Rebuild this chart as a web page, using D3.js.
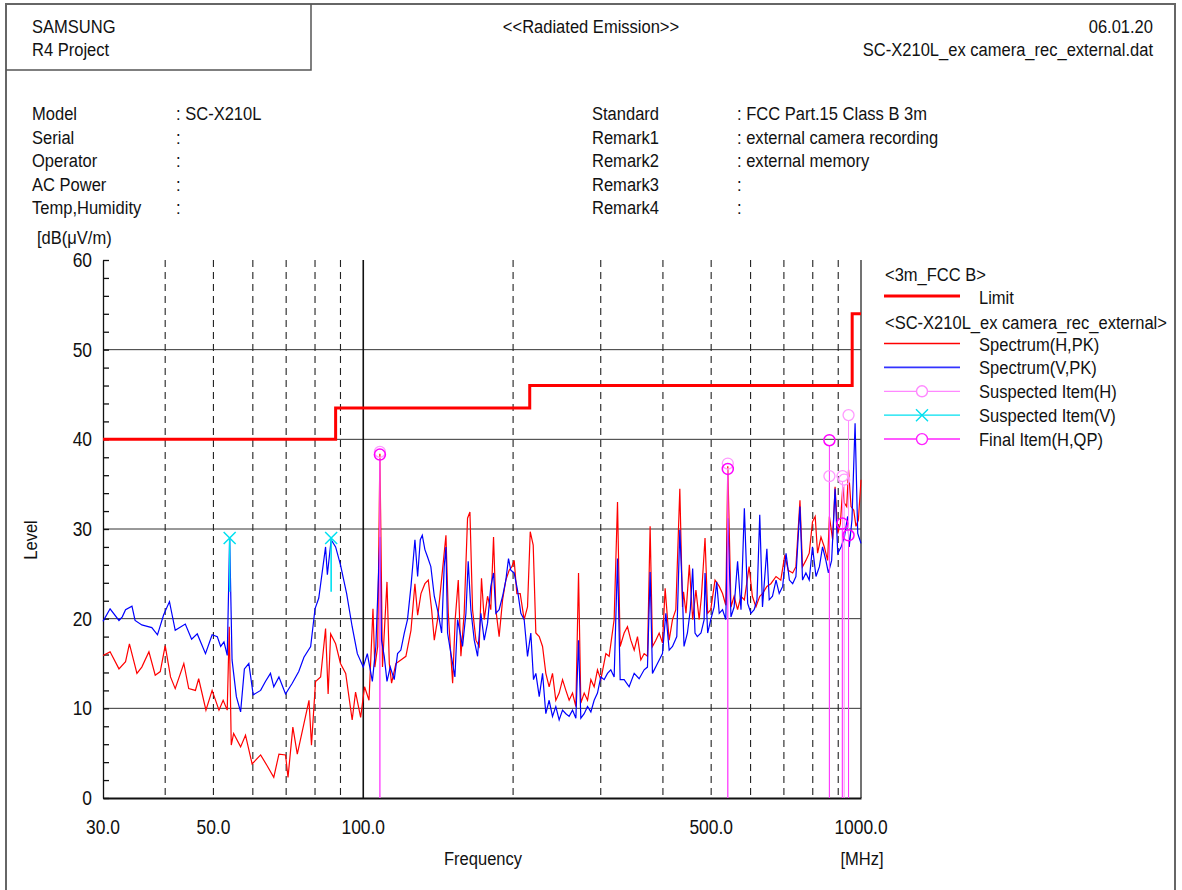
<!DOCTYPE html>
<html>
<head>
<meta charset="utf-8">
<script src="https://cdn.jsdelivr.net/npm/d3@7"></script>
<style>
  body { margin: 0; background: #fff; }
  text { font-family: "Liberation Sans", Arial, sans-serif; fill: #111; }
</style>
</head>
<body>
<svg id="chart" width="1182" height="890"></svg>
<script>
// ---- data ----
var xTickValues = [30, 50, 100, 500, 1000];
var xTickLabels = ["30.0", "50.0", "100.0", "500.0", "1000.0"];
var yTickValues = [0, 10, 20, 30, 40, 50, 60];
var gridFreqs = [40, 50, 60, 70, 80, 90, 200, 300, 400, 500, 600, 700, 800, 900];

// limit (step after)
var limitFreq = [30, 88, 216, 960, 1000];
var limitLevel = [40, 43.5, 46, 54, 54];

// Spectrum(H,PK) [MHz, dB(uV/m)]
var specH = [
  [30.0,15.9],[31.0,16.3],[32.3,14.4],[33.3,15.2],[33.9,17.2],[35.1,13.9],[35.9,14.6],[37.1,16.3],[38.2,13.7],[39.1,14.1],
  [40.0,17.0],[41.0,13.5],[41.9,12.2],[43.6,15.0],[44.6,12.2],[46.0,12.0],[46.7,13.3],[48.3,9.8],[49.7,12.0],[51.3,9.8],
  [52.3,10.9],[53.3,9.8],[53.8,19.1],[54.3,5.9],[54.9,7.2],[56.7,5.7],[58.0,7.0],[59.8,3.8],[62.2,4.8],[64.1,3.6],
  [66.1,2.3],[67.7,4.9],[69.8,4.8],[70.6,2.3],[72.2,7.9],[73.7,4.9],[76.0,8.3],[77.8,10.9],[78.7,5.9],[80.2,13.0],
  [82.1,13.5],[84.0,18.9],[85.0,11.6],[86.0,18.3],[88.0,17.2],[90.0,15.0],[92.2,13.9],[95.0,8.7],[96.5,11.8],[98.8,9.0],
  [100.6,12.4],[102.7,10.9],[104.6,21.1],[105.5,14.6],[106.9,16.9],[108.0,38.4],[109.3,14.6],[111.6,24.1],[112.8,15.0],[114.0,12.8],
  [116.3,15.0],[119.0,15.4],[121.8,15.8],[124.7,18.7],[127.0,23.9],[128.6,20.4],[130.6,22.8],[133.0,23.9],[135.1,24.3],[137.2,21.0],
  [138.9,17.6],[141.0,19.9],[143.2,23.6],[146.6,29.3],[148.2,20.6],[150.0,15.8],[151.2,12.8],[153.0,19.9],[155.2,24.3],[157.1,15.8],
  [159.5,20.6],[162.0,31.2],[163.8,31.9],[165.8,21.0],[168.4,17.6],[171.0,16.9],[172.8,24.5],[175.0,19.9],[177.7,22.5],[180.4,21.0],
  [182.7,29.1],[184.7,21.0],[187.5,18.0],[190.5,22.1],[193.4,24.3],[196.4,25.4],[198.9,25.8],[201.0,26.5],[203.5,22.8],[206.7,22.8],
  [210.5,19.9],[213.8,21.3],[216.5,29.7],[219.5,28.2],[222.2,18.4],[225.7,18.0],[229.2,16.9],[232.7,13.9],[236.3,12.4],[240.0,13.9],
  [243.7,10.9],[247.5,11.7],[251.4,13.2],[255.3,12.0],[259.2,10.9],[263.3,11.7],[267.4,10.2],[270.7,25.1],[273.6,10.6],[277.9,11.7],
  [282.2,10.9],[286.6,13.2],[291.0,12.4],[295.5,14.3],[300.1,13.2],[307.2,16.1],[311.9,15.8],[319.2,19.9],[324.2,33.0],[328.2,16.9],
  [334.3,18.4],[339.5,19.1],[344.8,17.6],[350.2,16.5],[355.6,18.0],[361.1,15.4],[366.7,16.1],[372.4,15.8],[377.0,30.3],[381.1,16.9],
  [387.1,17.6],[393.1,18.4],[399.2,17.3],[404.1,23.4],[411.7,17.6],[418.1,19.9],[424.6,21.0],[432.5,34.5],[437.9,21.3],[440,23.0],
  [445,20.6],[452,26.0],[459,19.9],[466,23.2],[473,19.9],[478,22.5],[486,29.0],[492,20.6],[499,21.0],[509,24.3],
  [519,23.6],[527,22.8],[535,21.5],[540,37.0],[548,21.3],[556,22.5],[565,21.0],[574,22.5],[583,22.1],[596,25.8],
  [605,22.5],[615,21.3],[626,22.5],[634,22.8],[647,23.6],[659,23.9],[675,24.7],[690,24.3],[703,27.1],[714,25.4],
  [729,25.1],[740,25.8],[754,33.2],[763,25.8],[775,26.5],[787,27.3],[799,30.8],[809,31.4],[818,27.3],[831,29.1],
  [844,28.0],[857,26.5],[864,31.4],[877,28.8],[887,34.7],[898,29.5],[909,30.6],[919,34.7],[926,32.9],[936,32.5],
  [944,36.6],[955,32.5],[967,32.1],[977,30.3],[988,31.0],[1000,35.5]
];

// Spectrum(V,PK) [MHz, dB(uV/m)]
var specV = [
  [30.0,19.7],[31.0,21.1],[32.3,19.8],[32.8,20.2],[33.3,21.0],[34.3,21.4],[34.8,19.8],[35.9,19.3],[36.5,19.2],[37.6,19.0],
  [38.6,18.2],[39.7,20.4],[40.8,21.9],[41.9,18.7],[43.9,19.4],[45.2,17.7],[46.4,18.3],[48.2,16.1],[49.7,18.2],[50.9,18.0],
  [51.7,16.9],[52.5,17.4],[53.3,15.9],[53.9,29.0],[54.5,15.4],[55.6,11.3],[56.7,9.6],[57.7,14.4],[58.9,15.0],[60.1,11.5],
  [62.2,12.0],[63.6,13.0],[65.1,13.9],[66.1,12.4],[67.7,13.5],[69.8,11.6],[72.0,12.8],[74.2,14.1],[76.0,15.7],[78.4,16.9],
  [80.0,21.1],[81.4,22.3],[84.0,28.0],[84.7,24.9],[86.2,28.8],[88.0,28.0],[90.0,26.0],[92.6,22.8],[95.0,19.1],[97.3,16.1],
  [100.0,14.6],[101.9,16.1],[104.3,13.0],[106.0,16.9],[108.0,29.1],[108.8,17.6],[110.2,15.8],[111.6,13.0],[113.3,14.6],[115.4,13.2],
  [117.2,16.1],[119.0,16.5],[120.9,18.4],[122.7,19.9],[124.7,23.6],[127.0,28.8],[128.6,24.7],[130.2,28.8],[131.4,29.3],[133.0,27.7],
  [134.6,26.9],[136.7,25.8],[138.9,22.5],[141.5,20.6],[143.7,18.4],[145.4,25.8],[146.6,28.0],[147.7,18.4],[150.0,16.1],[152.8,13.5],
  [154.7,19.9],[158.3,16.9],[160.8,20.6],[162.5,26.4],[164.5,21.0],[167.1,17.6],[169.7,15.8],[172.3,20.6],[175.0,17.6],[177.7,19.5],
  [180.4,23.6],[182.7,25.1],[184.7,20.6],[187.5,21.0],[190.5,22.5],[193.4,24.3],[195.8,26.7],[197.9,25.4],[201.0,25.1],[204.1,23.2],
  [207.3,20.6],[210.5,19.9],[213.8,15.8],[217.1,18.4],[219.8,13.2],[222.2,13.9],[225.7,11.3],[229.2,13.9],[232.7,9.4],[236.3,10.9],
  [240.0,9.1],[243.7,10.2],[247.5,8.7],[251.4,9.8],[255.3,9.4],[259.2,9.1],[263.3,9.8],[267.4,8.9],[270.7,17.6],[273.6,8.9],
  [277.9,9.4],[282.2,10.2],[286.6,9.6],[291.0,10.9],[295.5,11.7],[300.1,13.5],[304.8,13.2],[309.5,13.9],[314.3,14.3],[319.2,13.5],
  [324.2,26.7],[328.2,13.2],[334.3,13.2],[342.1,12.4],[350.2,13.9],[358.3,13.3],[366.7,14.3],[372.4,14.6],[377.0,25.2],[381.1,13.9],
  [390.0,15.0],[399.2,16.1],[405.4,20.6],[411.7,16.5],[418.1,16.9],[426.5,18.0],[432.5,29.9],[437.9,22.5],[441,16.9],[448,18.4],
  [454,21.0],[459,25.6],[464,18.4],[469,18.0],[477,18.4],[484,19.9],[486,25.1],[492,18.4],[499,19.9],[507,21.3],
  [513,24.1],[519,20.6],[527,21.0],[535,19.9],[540,31.2],[548,20.2],[556,21.3],[565,26.4],[574,21.0],[583,32.3],
  [592,21.7],[601,20.6],[610,21.0],[618,22.1],[626,31.6],[634,21.3],[647,27.8],[654,22.1],[664,22.5],[675,24.3],
  [685,22.8],[696,23.6],[707,27.3],[718,24.3],[729,23.9],[740,24.7],[754,32.5],[763,24.3],[775,25.1],[787,24.3],
  [799,28.0],[812,24.7],[825,25.8],[837,28.0],[850,26.5],[860,25.1],[873,26.5],[887,34.5],[898,27.3],[912,28.0],
  [926,29.1],[940,31.4],[947,28.0],[959,31.0],[973,41.8],[985,29.5],[1000,28.4]
];

// items
var suspH = [[108, 38.6], [540, 37.3], [864, 35.9], [918, 35.9], [925, 35.5], [944, 42.7]];
var finalH = [[108, 38.3], [540, 36.7], [864, 39.9], [917, 30.6], [944, 29.3]];
var suspV = [[53.9, 29.0], [86.2, 29.0]];

var headerLeft = ["Model", "Serial", "Operator", "AC Power", "Temp,Humidity"];
var headerLeftVal = [": SC-X210L", ":", ":", ":", ":"];
var headerRight = ["Standard", "Remark1", "Remark2", "Remark3", "Remark4"];
var headerRightVal = [": FCC Part.15 Class B 3m", ": external camera recording", ": external memory", ":", ":"];

// ---- drawing ----
(function() {
var svg = d3.select("#chart");
var plotLeft = 103, plotRight = 861, plotTop = 260, plotBottom = 798;

var x = d3.scaleLog().domain([30, 1000]).range([plotLeft, plotRight]);
var y = d3.scaleLinear().domain([0, 60]).range([plotBottom, plotTop]);

// condensed text helper
function txt(g, px, py, s, anchor, size) {
  return g.append("text")
    .attr("transform", "translate(" + px + "," + py + ") scale(0.87,1)")
    .attr("text-anchor", anchor || "start")
    .attr("font-size", size || 19)
    .text(s);
}

// outer frame + title box
svg.append("path").attr("d", "M6,890 V4 H1175 V890").attr("fill", "none").attr("stroke", "#666").attr("stroke-width", 2);
svg.append("path").attr("d", "M6,70 H311 V4").attr("fill", "none").attr("stroke", "#555").attr("stroke-width", 1.5);

txt(svg, 32, 33, "SAMSUNG");
txt(svg, 32, 56, "R4 Project");
txt(svg, 591, 33, "<<Radiated Emission>>", "middle");
txt(svg, 1153, 33, "06.01.20", "end");
txt(svg, 1153, 56, "SC-X210L_ex camera_rec_external.dat", "end");

headerLeft.forEach(function(s, i) {
  txt(svg, 32, 120 + i * 23.6, s);
  txt(svg, 176, 120 + i * 23.6, headerLeftVal[i]);
});
headerRight.forEach(function(s, i) {
  txt(svg, 592, 120 + i * 23.6, s);
  txt(svg, 737, 120 + i * 23.6, headerRightVal[i]);
});

txt(svg, 37, 244, "[dB(\u03bcV/m)");

// grid
var grid = svg.append("g");
grid.selectAll("line.h").data([10, 20, 30, 40, 50]).enter().append("line")
  .attr("x1", plotLeft).attr("x2", plotRight)
  .attr("y1", function(d) { return y(d); }).attr("y2", function(d) { return y(d); })
  .attr("stroke", "#333").attr("stroke-width", 1);
grid.selectAll("line.v").data(gridFreqs).enter().append("line")
  .attr("x1", function(d) { return x(d); }).attr("x2", function(d) { return x(d); })
  .attr("y1", plotTop).attr("y2", plotBottom)
  .attr("stroke", "#222").attr("stroke-width", 1.1).attr("stroke-dasharray", "7,5");
grid.append("line")
  .attr("x1", x(100)).attr("x2", x(100)).attr("y1", plotTop).attr("y2", plotBottom)
  .attr("stroke", "#111").attr("stroke-width", 1.6);
grid.append("line")
  .attr("x1", plotRight).attr("x2", plotRight).attr("y1", plotTop).attr("y2", plotBottom)
  .attr("stroke", "#444").attr("stroke-width", 1.5);

// axes
var yAxis = svg.append("g").attr("transform", "translate(" + plotLeft + ",0)")
  .call(d3.axisRight(y).tickValues(d3.range(0, 61, 2)).tickSize(6).tickSizeOuter(0).tickFormat(""));
yAxis.selectAll("path,line").attr("stroke", "#111").attr("stroke-width", 1.3);
var xAxis = svg.append("g").attr("transform", "translate(0," + plotBottom + ")")
  .call(d3.axisBottom(x).tickValues([]).tickSizeOuter(0));
xAxis.select("path").attr("stroke", "#111").attr("stroke-width", 2);

yTickValues.forEach(function(v) { txt(svg, 92, y(v) + 7, String(v), "end", 20); });
xTickValues.forEach(function(v, i) { txt(svg, x(v), 834, xTickLabels[i], "middle", 20); });
txt(svg, 483, 865, "Frequency", "middle");
txt(svg, 862, 865, "[MHz]", "middle");
svg.append("text")
  .attr("transform", "translate(37,540) rotate(-90) scale(0.87,1)")
  .attr("text-anchor", "middle").attr("font-size", 19).text("Level");

// limit
var limitLine = d3.line()
  .x(function(d, i) { return x(limitFreq[i]); })
  .y(function(d, i) { return y(limitLevel[i]); })
  .curve(d3.curveStepAfter);
svg.append("path").attr("d", limitLine(limitFreq))
  .attr("fill", "none").attr("stroke", "#ff0000").attr("stroke-width", 3);

// spectra
var specLine = d3.line().x(function(d) { return x(d[0]); }).y(function(d) { return y(d[1]); });
svg.append("path").attr("d", specLine(specH)).attr("fill", "none").attr("stroke", "#ff0000").attr("stroke-width", 1.2);
svg.append("path").attr("d", specLine(specV)).attr("fill", "none").attr("stroke", "#0000ff").attr("stroke-width", 1.2);

// item sticks and markers
svg.selectAll("line.sh").data(suspH).enter().append("line")
  .attr("x1", function(d) { return x(d[0]); }).attr("x2", function(d) { return x(d[0]); })
  .attr("y1", y(0)).attr("y2", function(d) { return y(d[1]) + 5; })
  .attr("stroke", "#ff88ff").attr("stroke-width", 1);
svg.selectAll("line.fh").data(finalH).enter().append("line")
  .attr("x1", function(d) { return x(d[0]); }).attr("x2", function(d) { return x(d[0]); })
  .attr("y1", y(0)).attr("y2", function(d) { return y(d[1]) + 5; })
  .attr("stroke", "#ff33ff").attr("stroke-width", 1);
svg.selectAll("line.sv").data(suspV).enter().append("line")
  .attr("x1", function(d) { return x(d[0]); }).attr("x2", function(d) { return x(d[0]); })
  .attr("y1", function(d) { return y(d[1] - 6); }).attr("y2", function(d) { return y(d[1]); })
  .attr("stroke", "#00e0f0").attr("stroke-width", 1.6);

svg.selectAll("circle.sh").data(suspH).enter().append("circle")
  .attr("cx", function(d) { return x(d[0]); }).attr("cy", function(d) { return y(d[1]); })
  .attr("r", 5.5).attr("fill", "none").attr("stroke", "#ff99ff").attr("stroke-width", 1.3);
svg.selectAll("circle.fh").data(finalH).enter().append("circle")
  .attr("cx", function(d) { return x(d[0]); }).attr("cy", function(d) { return y(d[1]); })
  .attr("r", 5.5).attr("fill", "none").attr("stroke", "#ff00ff").attr("stroke-width", 1.5);
var crossPath = "M-6,-6L6,6M-6,6L6,-6";
svg.selectAll("path.sv").data(suspV).enter().append("path")
  .attr("transform", function(d) { return "translate(" + x(d[0]) + "," + y(d[1]) + ")"; })
  .attr("d", crossPath).attr("stroke", "#00e0f0").attr("stroke-width", 1.5);

// legend
var lg = svg.append("g");
txt(lg, 885, 281, "<3m_FCC B>");
lg.append("line").attr("x1", 884).attr("x2", 960).attr("y1", 296).attr("y2", 296).attr("stroke", "#ff0000").attr("stroke-width", 3);
txt(lg, 979, 304, "Limit");
txt(lg, 885, 329, "<SC-X210L_ex camera_rec_external>");
var legendRows = [
  { label: "Spectrum(H,PK)", color: "#ff0000", w: 1.3, mark: null },
  { label: "Spectrum(V,PK)", color: "#3333ff", w: 1.6, mark: null },
  { label: "Suspected Item(H)", color: "#ff88ff", w: 1.3, mark: "circle" },
  { label: "Suspected Item(V)", color: "#00e0f0", w: 1.3, mark: "cross" },
  { label: "Final Item(H,QP)", color: "#ff22ff", w: 1.5, mark: "circle" }
];
legendRows.forEach(function(r, i) {
  var cy = 343.5 + i * 23.9;
  lg.append("line").attr("x1", 884).attr("x2", 960).attr("y1", cy).attr("y2", cy)
    .attr("stroke", r.color).attr("stroke-width", r.w);
  if (r.mark === "circle") {
    lg.append("circle").attr("cx", 922).attr("cy", cy).attr("r", 5.5)
      .attr("fill", "#fff").attr("stroke", r.color).attr("stroke-width", 1.4);
  } else if (r.mark === "cross") {
    lg.append("path").attr("transform", "translate(922," + cy + ")").attr("d", crossPath)
      .attr("stroke", r.color).attr("stroke-width", 1.4);
  }
  txt(lg, 979, cy + 7, r.label);
});
})();
</script>
</body>
</html>
